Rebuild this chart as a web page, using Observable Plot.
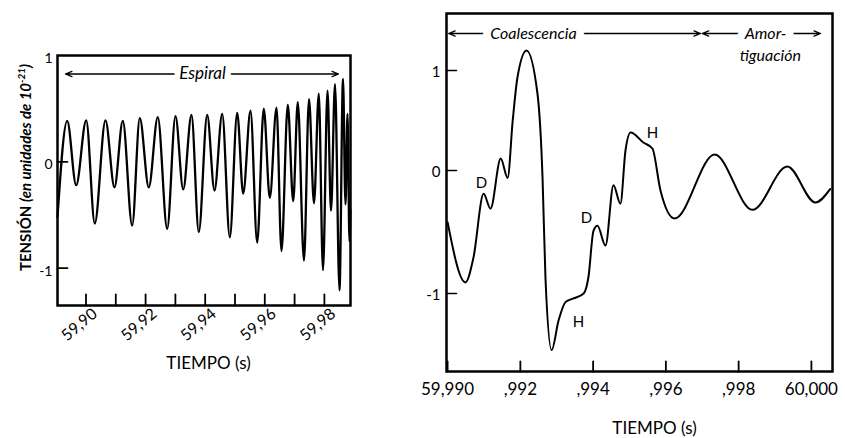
<!DOCTYPE html>
<html>
<head>
<meta charset="utf-8">
<script src="https://cdn.jsdelivr.net/npm/d3@7"></script>
<script src="https://cdn.jsdelivr.net/npm/@observablehq/plot@0.6"></script>
<style>
  html, body { margin: 0; padding: 0; background: #fff; }
  #wrap { position: relative; width: 845px; height: 438px; overflow: hidden; background: #fff; }
  #left { position: absolute; left: 0; top: 0; }
  #right { position: absolute; left: 400px; top: 0; }
  svg { display: block; }
</style>
</head>
<body>
<div id="wrap"><div id="left"></div><div id="right"></div></div>
<script>
// ---------- Data: inspiral ("Espiral") panel, extrema ----------
const spiralTime = [
  59.89044, 59.89369, 59.89671, 59.90007, 59.90295, 59.90654, 59.90956, 59.91235,
  59.91550, 59.91805, 59.92107, 59.92409, 59.92725, 59.93003, 59.93262, 59.93540,
  59.93785, 59.94067, 59.94312, 59.94571, 59.94826, 59.95074, 59.95275, 59.95520,
  59.95745, 59.95966, 59.96168, 59.96393, 59.96560, 59.96772, 59.96953, 59.97107,
  59.97315, 59.97483, 59.97651, 59.97812, 59.97953, 59.98104, 59.98222, 59.98356,
  59.98507, 59.98624, 59.98708, 59.98775, 59.98842, 59.98873
];
const spiralStrain = [
  -0.52, 0.385, -0.22, 0.39, -0.58, 0.39, -0.24, 0.385,
  -0.60, 0.41, -0.24, 0.42, -0.63, 0.43, -0.26, 0.44,
  -0.66, 0.44, -0.27, 0.45, -0.71, 0.46, -0.30, 0.48,
  -0.76, 0.50, -0.34, 0.51, -0.84, 0.535, -0.37, 0.56,
  -0.93, 0.59, -0.39, 0.64, -1.02, 0.67, -0.46, 0.73,
  -1.21, 0.78, -0.40, 0.45, -0.75, -0.45
];
const spiralTicks = [59.90, 59.92, 59.94, 59.96, 59.98];
const spiralTickLabels = ["59,90", "59,92", "59,94", "59,96", "59,98"];
const spiralMinorTicks = [59.91, 59.93, 59.95, 59.97];

// ---------- Data: merger ("Coalescencia") + ringdown ("Amortiguación") panel ----------
const mergerTime = [
  59.99000, 59.99049, 59.99071, 59.99099, 59.99118, 59.99146, 59.99165, 59.99179,
  59.99192, 59.99217, 59.99247, 59.99261, 59.99269, 59.99286, 59.99305, 59.99324,
  59.99346, 59.99374, 59.99387, 59.99401, 59.99412, 59.99434, 59.99456, 59.99475,
  59.99489, 59.99503, 59.99538, 59.99563, 59.99585, 59.99624, 59.99734, 59.99838,
  59.99934, 60.00011, 60.00052
];
const mergerStrain = [
  -0.42, -0.91, -0.71, -0.19, -0.31, 0.12, -0.06, 0.50,
  0.93, 1.20, 0.77, -0.06, -0.87, -1.46, -1.22, -1.07,
  -1.04, -1.00, -0.87, -0.49, -0.45, -0.61, -0.12, -0.27,
  0.20, 0.38, 0.28, 0.22, -0.16, -0.39, 0.16, -0.32,
  0.04, -0.26, -0.15
];
const mergerTicks = [59.990, 59.992, 59.994, 59.996, 59.998, 60.000];
const mergerTickLabels = ["59,990", ",992", ",994", ",996", ",998", "60,000"];

const strainTicks = [-1, 0, 1];
const strainTickLabels = ["-1", "0", "1"];

// point labels on the merger curve
const markerLabels = ["D", "D", "H", "H"];
const markerTime = [59.99093, 59.99382, 59.99360, 59.99563];
const markerStrain = [-0.10, -0.39, -1.23, 0.37];

// phases (start, end, label position)
const spiralPhase = {name: "Espiral", start: 59.89312, end: 59.98473, label: 59.93909, level: 0.826};
const phaseNames = ["Coalescencia", "Amor-"];
const phaseStart = [59.99003, 59.99700];
const phaseEnd = [59.99695, 60.00025];
const phaseLabelAt = [59.99236, 59.99874];
const phaseLevel = 1.37;
const phaseSecondLine = {text: "tiguación", x: 59.99887, y: 1.15};

// ---------- helpers ----------
const spiral = spiralTime.map((t, i) => ({t, h: spiralStrain[i]}));
const merger = mergerTime.map((t, i) => ({t, h: mergerStrain[i]}));
const markers = markerLabels.map((s, i) => ({s, t: markerTime[i], h: markerStrain[i]}));
const phases = phaseNames.map((name, i) => ({name, start: phaseStart[i], end: phaseEnd[i], label: phaseLabelAt[i], level: phaseLevel}));
const arrowsOf = (ps) => ps.flatMap(p => [
  {x1: p.label, x2: p.start, y: p.level},
  {x1: p.label, x2: p.end, y: p.level}
]);
const tickShape = {draw(context, l) { context.moveTo(0, 0); context.lineTo(0, -l); }};
const FONT = "Lato, 'Open Sans', sans-serif";

// ---------- Left panel ----------
const left = Plot.plot({
  width: 365, height: 400,
  marginLeft: 57, marginRight: 15, marginTop: 55, marginBottom: 95,
  style: {fontFamily: FONT, color: "black", background: "white", overflow: "visible"},
  x: {domain: [59.89044, 59.98876]},
  y: {domain: [-1.352, 1.0]},
  marks: [
    Plot.line(spiral, {x: "t", y: "h", curve: "monotone-x", stroke: "black", strokeWidth: 2.3}),
    Plot.vector(spiralTicks.concat(spiralMinorTicks), {x: d => d, frameAnchor: "bottom", length: 11, anchor: "start", shape: tickShape, stroke: "black", strokeWidth: 1.8}),
    Plot.vector([-1, 0], {y: d => d, frameAnchor: "left", rotate: 90, length: 10, anchor: "start", shape: tickShape, stroke: "black", strokeWidth: 1.8}),
    Plot.axisX(spiralTicks, {tickSize: 0, tickPadding: 6, tickRotate: -40, dx: 9, fontSize: 16,
      tickFormat: d => spiralTickLabels[spiralTicks.indexOf(d)], label: null}),
    Plot.axisY(strainTicks, {tickSize: 0, tickPadding: 5, dy: 3, fontSize: 14,
      tickFormat: d => strainTickLabels[strainTicks.indexOf(d)], label: null}),
    Plot.frame({stroke: "black", strokeWidth: 2.5}),
    Plot.arrow(arrowsOf([spiralPhase]), {x1: "x1", x2: "x2", y1: "y", y2: "y", headLength: 8, headAngle: 45, stroke: "black", strokeWidth: 1.3}),
    Plot.text([spiralPhase], {x: "label", y: "level", text: "name", fontSize: 17, fontStyle: "italic",
      stroke: "white", strokeWidth: 12, paintOrder: "stroke", fill: "black"}),
    Plot.text(["TIEMPO (s)"], {text: d => d, frameAnchor: "bottom", textAnchor: "middle", lineAnchor: "middle", dx: 4.5, dy: 58, fontSize: 17}),
    Plot.text(["TENSIÓN (en unidades de 10⁻²¹)"], {text: d => d, frameAnchor: "left", textAnchor: "middle", lineAnchor: "middle", rotate: -90, dx: -31.5, dy: -13, fontSize: 15, fontWeight: "bold"})
  ]
});

// split y label into styled parts
d3.select(left).selectAll("text").filter(function() { return this.textContent.startsWith("TENSIÓN"); })
  .each(function() {
    const t = d3.select(this);
    t.text(null);
    t.append("tspan").text("TENSIÓN ");
    t.append("tspan").attr("font-style", "italic").text("(en unidades de 10");
    t.append("tspan").attr("font-style", "italic").attr("font-size", 10).attr("dy", -6).text("-21");
    t.append("tspan").attr("font-style", "italic").attr("dy", 6).text(")");
  });
document.getElementById("left").append(left);

// ---------- Right panel ----------
const right = Plot.plot({
  width: 445, height: 438,
  marginLeft: 46, marginRight: 13, marginTop: 13, marginBottom: 67,
  style: {fontFamily: FONT, color: "black", background: "white", overflow: "visible"},
  x: {domain: [59.98997, 60.00058]},
  y: {type: "linear", domain: [-1.634, -1, 0, 1, 1.57], range: [371, 293, 170, 70, 13]},
  marks: [
    Plot.line(merger, {x: "t", y: "h", curve: "monotone-x", stroke: "black", strokeWidth: 2}),
    Plot.vector(mergerTicks, {x: d => d, frameAnchor: "bottom", length: 10, anchor: "start", shape: tickShape, stroke: "black", strokeWidth: 1.8}),
    Plot.vector(strainTicks, {y: d => d, frameAnchor: "left", rotate: 90, length: 10, anchor: "start", shape: tickShape, stroke: "black", strokeWidth: 1.5}),
    Plot.axisX(mergerTicks, {tickSize: 0, tickPadding: 11, fontSize: 17,
      tickFormat: d => mergerTickLabels[mergerTicks.indexOf(d)], label: null}),
    Plot.axisY(strainTicks, {tickSize: 0, tickPadding: 6, dy: 2, fontSize: 15,
      tickFormat: d => strainTickLabels[strainTicks.indexOf(d)], label: null}),
    Plot.frame({stroke: "black", strokeWidth: 2.5}),
    Plot.text(markers, {x: "t", y: "h", text: "s", fontSize: 15}),
    Plot.arrow(arrowsOf(phases), {x1: "x1", x2: "x2", y1: "y", y2: "y", headLength: 8, headAngle: 45, stroke: "black", strokeWidth: 1.3}),
    Plot.text(phases, {x: "label", y: "level", text: "name", fontSize: 16, fontStyle: "italic",
      stroke: "white", strokeWidth: 16, paintOrder: "stroke", fill: "black"}),
    Plot.text([phaseSecondLine], {x: "x", y: "y", text: "text", fontSize: 16, fontStyle: "italic"}),
    Plot.text(["TIEMPO (s)"], {text: d => d, frameAnchor: "bottom", textAnchor: "middle", lineAnchor: "middle", dx: 15, dy: 57, fontSize: 17})
  ]
});
document.getElementById("right").append(right);
</script>
</body>
</html>
